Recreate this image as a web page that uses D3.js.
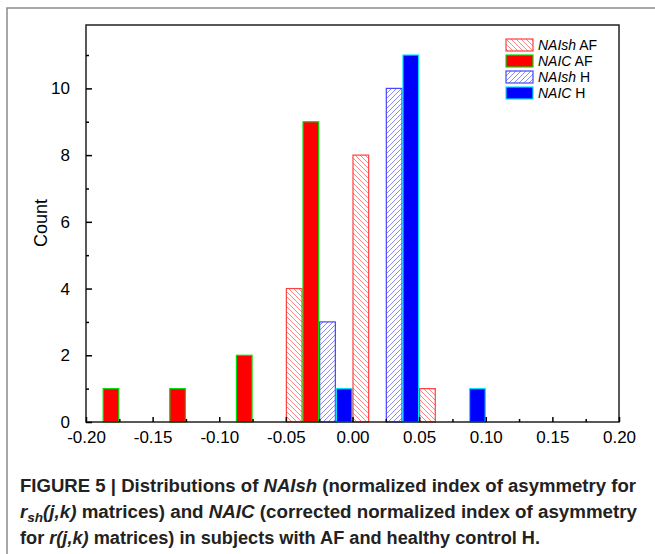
<!DOCTYPE html>
<html>
<head>
<meta charset="utf-8">
<script src="https://cdn.jsdelivr.net/npm/d3@7"></script>
<style>
  body { margin: 0; background: #fff; }
  svg { display: block; font-family: "Liberation Sans", Arial, sans-serif; }
  .cap { font-family: "Liberation Sans Narrow", "Liberation Sans", Arial, sans-serif; font-weight: bold; font-size: 18px; fill: #222; }
</style>
</head>
<body>
<svg id="chart" width="655" height="554"></svg>
<script>
// histogram bins (left edges, width 0.05)
const binStarts = [-0.20, -0.15, -0.10, -0.05, 0.00, 0.05, 0.10, 0.15];
const naishAF = [0, 0, 0, 4, 8, 1, 0, 0];
const naicAF  = [1, 1, 2, 9, 0, 0, 0, 0];
const naishH  = [0, 0, 0, 3, 10, 0, 0, 0];
const naicH   = [0, 0, 0, 1, 11, 1, 0, 0];
const seriesNames = ["NAIsh AF", "NAIC AF", "NAIsh H", "NAIC H"];
const xTicks = [-0.20, -0.15, -0.10, -0.05, 0.00, 0.05, 0.10, 0.15, 0.20];
const yTicks = [0, 2, 4, 6, 8, 10];

const svg = d3.select("#chart");

// outer figure frame
svg.append("path").attr("d", "M7,554V8H655").attr("fill", "none")
  .attr("stroke", "#8a8a8a").attr("stroke-width", 1.5);

const defs = svg.append("defs");
function hatch(id, color, dir) {
  const p = defs.append("pattern").attr("id", id).attr("patternUnits", "userSpaceOnUse")
    .attr("width", 5).attr("height", 5);
  p.append("path")
    .attr("d", dir === "back" ? "M-1,-1L6,6M-1,4L1,6M4,-1L6,1" : "M-1,6L6,-1M-1,1L1,-1M4,6L6,4")
    .attr("stroke", color).attr("stroke-width", 0.7);
}
hatch("hRed", "#ff5050", "back");
hatch("hBlue", "#5a5aff", "fwd");

const styles = {
  "NAIsh AF": { fill: "url(#hRed)", stroke: "#ff4040" },
  "NAIC AF":  { fill: "#ff0000", stroke: "#00e000" },
  "NAIsh H":  { fill: "url(#hBlue)", stroke: "#4444ff" },
  "NAIC H":   { fill: "#0000ff", stroke: "#00e8ff" }
};

const x = d3.scaleLinear().domain([-0.2, 0.2]).range([86, 619]);
const y = d3.scaleLinear().domain([0, 11.9]).range([422, 25]);
const inner = d3.scaleBand().domain(seriesNames).range([0, x(0.05) - x(0)]);

const rows = [];
binStarts.forEach((b, i) => {
  [naishAF, naicAF, naishH, naicH].forEach((arr, k) => {
    if (arr[i] > 0) rows.push({ bin: b, name: seriesNames[k], v: arr[i] });
  });
});

svg.append("g").selectAll("rect").data(rows).enter().append("rect")
  .attr("x", d => x(d.bin) + inner(d.name) + 0.5)
  .attr("width", inner.bandwidth() - 1)
  .attr("y", d => y(d.v))
  .attr("height", d => y(0) - y(d.v))
  .attr("fill", d => styles[d.name].fill)
  .attr("stroke", d => styles[d.name].stroke)
  .attr("stroke-width", 1.2);

// plot border
svg.append("rect").attr("x", 86).attr("y", 25).attr("width", 533).attr("height", 397)
  .attr("fill", "none").attr("stroke", "#222").attr("stroke-width", 1.5);

const fmt = d => d3.format(".2f")(d).replace("\u2212", "-");

// axes with inward ticks
const xAxis = svg.append("g").attr("transform", "translate(0,422)")
  .call(d3.axisBottom(x).tickValues(xTicks).tickSize(-5).tickPadding(9).tickFormat(fmt));
xAxis.select(".domain").remove();
xAxis.selectAll("text").attr("font-size", 17).attr("fill", "#000").attr("font-family", "Liberation Sans, Arial");
xAxis.selectAll("line").attr("stroke-width", 1.5);
svg.append("g").attr("transform", "translate(0,422)")
  .call(d3.axisBottom(x).tickValues(d3.range(-0.175, 0.2, 0.05)).tickSize(-3).tickFormat(""))
  .call(g => g.select(".domain").remove())
  .selectAll("line").attr("stroke-width", 1.5);

const yAxis = svg.append("g").attr("transform", "translate(86,0)")
  .call(d3.axisLeft(y).tickValues(yTicks).tickSize(-6).tickPadding(16));
yAxis.select(".domain").remove();
yAxis.selectAll("text").attr("font-size", 17).attr("fill", "#000").attr("font-family", "Liberation Sans, Arial");
yAxis.selectAll("line").attr("stroke-width", 1.5);
svg.append("g").attr("transform", "translate(86,0)")
  .call(d3.axisLeft(y).tickValues([1, 3, 5, 7, 9, 11]).tickSize(-3).tickFormat(""))
  .call(g => g.select(".domain").remove())
  .selectAll("line").attr("stroke-width", 1.5);

svg.append("text").attr("transform", "translate(47,223) rotate(-90)")
  .attr("text-anchor", "middle").attr("font-size", 18).text("Count");

// legend
const leg = svg.append("g").attr("transform", "translate(506,39)");
seriesNames.forEach((n, i) => {
  const g = leg.append("g").attr("transform", `translate(0,${i * 16})`);
  g.append("rect").attr("width", 27).attr("height", 12)
    .attr("fill", styles[n].fill).attr("stroke", styles[n].stroke).attr("stroke-width", 1.2);
  const t = g.append("text").attr("x", 32).attr("y", 11).attr("font-size", 14);
  const parts = n.split(" ");
  t.append("tspan").attr("font-style", "italic").text(parts[0]);
  t.append("tspan").text(" " + parts[1]);
});

// caption
const cap = svg.append("g").attr("class", "cap");
const l1 = cap.append("text").attr("x", 20).attr("y", 492).attr("textLength", 616).attr("lengthAdjust", "spacingAndGlyphs");
l1.append("tspan").text("FIGURE 5 | Distributions of ");
l1.append("tspan").attr("font-style", "italic").text("NAIsh");
l1.append("tspan").text(" (normalized index of asymmetry for");

const l2 = cap.append("text").attr("x", 20).attr("y", 518).attr("textLength", 617).attr("lengthAdjust", "spacingAndGlyphs");
l2.append("tspan").attr("font-style", "italic").text("r");
l2.append("tspan").attr("font-style", "italic").attr("font-size", 13).attr("dy", 4).text("sh");
l2.append("tspan").attr("font-style", "italic").attr("dy", -4).text("(j,k)");
l2.append("tspan").text(" matrices) and ");
l2.append("tspan").attr("font-style", "italic").text("NAIC");
l2.append("tspan").text(" (corrected normalized index of asymmetry");

const l3 = cap.append("text").attr("x", 20).attr("y", 544).attr("textLength", 520).attr("lengthAdjust", "spacingAndGlyphs");
l3.append("tspan").text("for ");
l3.append("tspan").attr("font-style", "italic").text("r(j,k)");
l3.append("tspan").text(" matrices) in subjects with AF and healthy control H.");
</script>
</body>
</html>
